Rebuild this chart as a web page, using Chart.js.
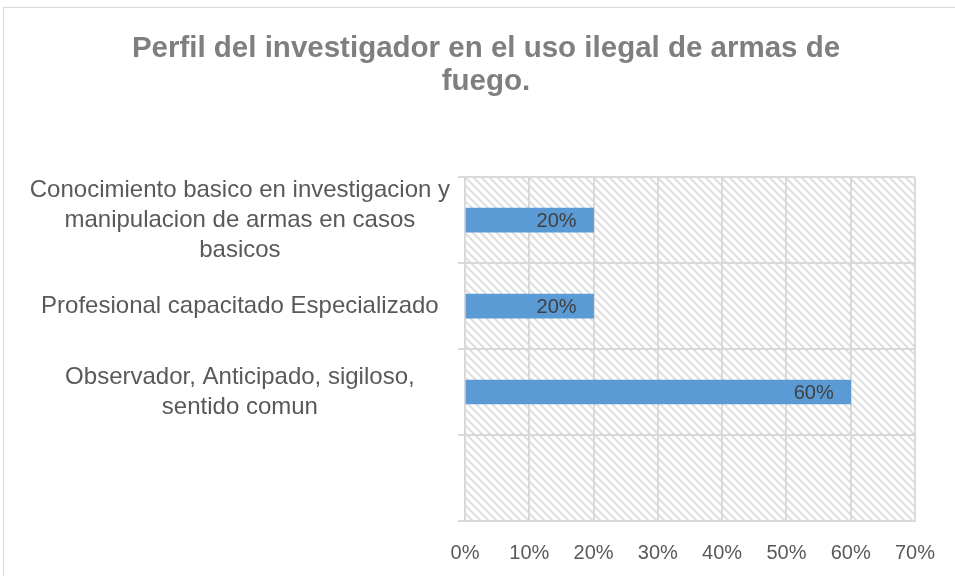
<html>
  <head>
    <script src="https://cdn.jsdelivr.net/npm/chart.js@4/dist/chart.umd.min.js"></script>
    <style>
      body { margin: 0; background: #fff; }
      #wrap { width: 955px; height: 576px; }
    </style>
  </head>
  <body>
    <div id="wrap"><canvas id="myChart" width="955" height="576"></canvas></div>
  </body>
  <script>
    const titleLines = ['Perfil del investigador en el uso ilegal de armas de', 'fuego.'];
    const categories = [
      ['Conocimiento basico en investigacion y', 'manipulacion de armas en casos', 'basicos'],
      'Profesional capacitado Especializado',
      ['Observador, Anticipado, sigiloso,', 'sentido comun'],
      ''
    ];
    const percentages = [20, 20, 60, null];
    const xTicks = [0, 10, 20, 30, 40, 50, 60, 70];

    // diagonal hatch for the plot area
    const pat = document.createElement('canvas');
    pat.width = 8; pat.height = 8;
    const pctx = pat.getContext('2d');
    pctx.strokeStyle = '#dedede';
    pctx.lineWidth = 2;
    pctx.beginPath();
    pctx.moveTo(-2, -2); pctx.lineTo(10, 10);
    pctx.moveTo(-2, 6); pctx.lineTo(2, 10);
    pctx.moveTo(6, -2); pctx.lineTo(10, 2);
    pctx.stroke();

    const backdrop = {
      id: 'backdrop',
      beforeDraw(chart) {
        const { ctx, chartArea: a } = chart;
        ctx.save();
        ctx.fillStyle = ctx.createPattern(pat, 'repeat');
        ctx.fillRect(a.left, a.top, a.right - a.left, a.bottom - a.top);
        ctx.strokeStyle = '#d9d9d9';
        ctx.lineWidth = 1;
        ctx.strokeRect(3.5, 7.5, 1000, 1000);
        ctx.restore();
      }
    };

    const barLabels = {
      id: 'barLabels',
      afterDatasetsDraw(chart) {
        const { ctx } = chart;
        const meta = chart.getDatasetMeta(0);
        ctx.save();
        ctx.font = '20px "Liberation Sans", Arial, sans-serif';
        ctx.fillStyle = '#404040';
        ctx.textAlign = 'right';
        ctx.textBaseline = 'middle';
        meta.data.forEach((bar, i) => {
          if (percentages[i] == null) return;
          ctx.fillText(percentages[i] + '%', bar.x - 17, bar.y + 1);
        });
        ctx.restore();
      }
    };

    // outer paddings chosen so the title centre sits right of the canvas centre
    const leftPad = 25;
    const rightPad = 8;

    const ctx = document.getElementById('myChart').getContext('2d');
    const myChart = new Chart(ctx, {
      type: 'bar',
      data: {
        labels: categories,
        datasets: [{
          data: percentages,
          backgroundColor: '#5b9bd5',
          barThickness: 24
        }]
      },
      options: {
        indexAxis: 'y',
        responsive: false,
        animation: false,
        layout: { padding: { left: leftPad, right: rightPad, top: 0, bottom: 0 } },
        plugins: {
          legend: { display: false },
          tooltip: { enabled: false },
          title: {
            display: true,
            text: titleLines,
            color: '#7f7f7f',
            font: { family: '"Liberation Sans", Arial, sans-serif', size: 29.5, weight: 'bold', lineHeight: 1.12 },
            padding: { top: 32, bottom: 79 }
          }
        },
        scales: {
          x: {
            min: 0,
            max: 70,
            afterBuildTicks: s => { s.ticks = xTicks.map(v => ({ value: v })); },
            afterFit: s => { s.height = 55; },
            grid: { color: '#d9d9d9', lineWidth: 2, drawTicks: false },
            border: { color: '#d9d9d9', width: 2 },
            ticks: {
              color: '#595959',
              font: { family: '"Liberation Sans", Arial, sans-serif', size: 20 },
              padding: 20,
              autoSkip: false,
              maxRotation: 0,
              callback: v => v + '%'
            }
          },
          y: {
            afterFit: s => { s.width = 465 - leftPad; },
            grid: { color: '#d9d9d9', lineWidth: 2, tickLength: 7 },
            border: { color: '#d9d9d9', width: 2 },
            ticks: {
              color: '#595959',
              crossAlign: 'center',
              padding: 8,
              autoSkip: false,
              font: { family: '"Liberation Sans", Arial, sans-serif', size: 24, lineHeight: 1.25 }
            }
          },
          // empty spacer on the right edge
          yRight: {
            type: 'category',
            position: 'right',
            afterFit: s => { s.width = 955 - 917 - rightPad; },
            grid: { display: false },
            border: { display: false },
            ticks: { display: false }
          }
        }
      },
      plugins: [backdrop, barLabels]
    });
  </script>
</html>
